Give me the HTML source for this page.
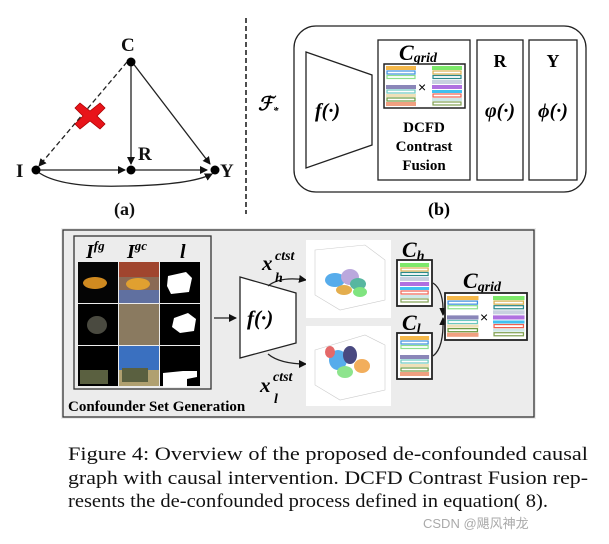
<!DOCTYPE html>
<html><head><meta charset="utf-8"><style>
html,body{margin:0;padding:0;background:#fff}
svg{display:block}
.s{font-family:"Liberation Serif",serif;font-weight:bold}
.c{font-family:"Liberation Serif",serif;font-size:19px;fill:#111}
</style></head><body>
<svg width="609" height="544" viewBox="0 0 609 544" xmlns="http://www.w3.org/2000/svg">
<defs>
<marker id="ar" markerWidth="8" markerHeight="8" refX="7" refY="4" orient="auto" markerUnits="userSpaceOnUse"><path d="M0,0 L8,4 L0,8 z" fill="#111"/></marker>
<g id="bars">
<rect x="0" y="0" width="30" height="4" fill="#f5b84a"/>
<rect x="1" y="5" width="28" height="3" fill="none" stroke="#3b8fe0" stroke-width="1.2"/>
<rect x="1" y="9.5" width="28" height="3" fill="none" stroke="#8ce08c" stroke-width="1.2"/>
<rect x="0" y="14" width="30" height="4" fill="#fff"/>
<rect x="0" y="19" width="30" height="4" fill="#8a86b8"/>
<rect x="1" y="24" width="28" height="3" fill="none" stroke="#6cc8c0" stroke-width="1.2"/>
<rect x="0" y="28" width="30" height="3" fill="#efe0b8"/>
<rect x="1" y="32" width="28" height="3" fill="none" stroke="#6a9a40" stroke-width="1.2"/>
<rect x="0" y="36" width="30" height="4" fill="#f0a080"/>
</g>
<g id="bars2">
<rect x="0" y="0" width="30" height="4" fill="#7de86a"/>
<rect x="1" y="5" width="28" height="3" fill="none" stroke="#d8b050" stroke-width="1.2"/>
<rect x="1" y="9.5" width="28" height="3" fill="none" stroke="#2a8a8a" stroke-width="1.2"/>
<rect x="0" y="14" width="30" height="4" fill="#c8d0e0"/>
<rect x="0" y="19" width="30" height="4" fill="#b070e0"/>
<rect x="0" y="24" width="30" height="3" fill="#40c0f0"/>
<rect x="1" y="28" width="28" height="3" fill="none" stroke="#f06050" stroke-width="1.2"/>
<rect x="0" y="32" width="30" height="3" fill="#d0e8e8"/>
<rect x="1" y="36" width="28" height="3" fill="none" stroke="#80a050" stroke-width="1.2"/>
</g>
</defs>

<!-- (a) -->
<g class="s" font-size="19" fill="#111">
<text x="121" y="51">C</text>
<text x="16" y="177">I</text>
<text x="138" y="160">R</text>
<text x="220" y="177">Y</text>
<text x="114" y="215" font-size="18">(a)</text>
</g>
<line x1="127" y1="62" x2="39" y2="166" stroke="#222" stroke-width="1.3" stroke-dasharray="5,3" marker-end="url(#ar)"/>
<line x1="131" y1="62" x2="131" y2="164" stroke="#222" stroke-width="1.3" marker-end="url(#ar)"/>
<line x1="132" y1="62" x2="210" y2="164" stroke="#222" stroke-width="1.3" marker-end="url(#ar)"/>
<line x1="36" y1="170" x2="125" y2="170" stroke="#222" stroke-width="1.3" marker-end="url(#ar)"/>
<line x1="131" y1="170" x2="207" y2="170" stroke="#222" stroke-width="1.3" marker-end="url(#ar)"/>
<path d="M38,172 Q60,188 125,186 Q190,185 212,174" fill="none" stroke="#222" stroke-width="1.3" marker-end="url(#ar)"/>
<circle cx="131" cy="62" r="4.5" fill="#000"/>
<circle cx="36" cy="170" r="4.5" fill="#000"/>
<circle cx="131" cy="170" r="4.5" fill="#000"/>
<circle cx="215" cy="170" r="4.5" fill="#000"/>
<path d="M80,103 l10,8 l10,-8 l5,5 l-8,8 l8,8 l-5,5 l-10,-8 l-10,8 l-5,-5 l8,-8 l-8,-8 z" fill="#e8141a" stroke="#a00" stroke-width="0.8"/>

<line x1="246" y1="18" x2="246" y2="214" stroke="#222" stroke-width="1.6" stroke-dasharray="5,3"/>

<!-- (b) -->
<text x="258" y="110" font-family="Liberation Serif,serif" font-style="italic" font-weight="bold" font-size="19">ℱ<tspan font-size="11" dy="4">*</tspan></text>
<rect x="294" y="26" width="292" height="166" rx="22" fill="#fff" stroke="#222" stroke-width="1.3"/>
<polygon points="306,52 372,75 372,145 306,168" fill="#fff" stroke="#222" stroke-width="1.3"/>
<text x="315" y="117" class="s" font-style="italic" font-size="20">f(·)</text>
<rect x="378" y="40" width="92" height="140" fill="#fff" stroke="#222" stroke-width="1.3"/>
<text x="399" y="60" class="s" font-style="italic" font-size="22">C<tspan font-size="14" dy="2">grid</tspan></text>
<rect x="384" y="64" width="81" height="44" fill="#fff" stroke="#222" stroke-width="1.5"/>
<use href="#bars" transform="translate(386,66)"/>
<use href="#bars2" transform="translate(432,66)"/>
<text x="418" y="92" font-size="14" font-family="Liberation Sans,sans-serif">×</text>
<g class="s" font-size="15" text-anchor="middle">
<text x="424" y="132">DCFD</text>
<text x="424" y="151">Contrast</text>
<text x="424" y="170">Fusion</text>
</g>
<rect x="477" y="40" width="46" height="140" fill="#fff" stroke="#222" stroke-width="1.3"/>
<rect x="529" y="40" width="48" height="140" fill="#fff" stroke="#222" stroke-width="1.3"/>
<text x="500" y="67" class="s" font-size="18" text-anchor="middle">R</text>
<text x="553" y="67" class="s" font-size="18" text-anchor="middle">Y</text>
<text x="500" y="117" class="s" font-style="italic" font-size="20" text-anchor="middle">φ(·)</text>
<text x="553" y="117" class="s" font-style="italic" font-size="20" text-anchor="middle">ϕ(·)</text>
<text x="428" y="215" class="s" font-size="18">(b)</text>

<!-- bottom panel -->
<rect x="61" y="228" width="475" height="191" fill="#ececec"/>
<rect x="63" y="230" width="471" height="187" fill="#ececec" stroke="#333" stroke-width="1.3"/>
<rect x="74" y="236" width="137" height="153" fill="#ececec" stroke="#333" stroke-width="1.3"/>
<g class="s" font-style="italic" font-size="20">
<text x="86" y="258">I<tspan font-size="13" dy="-8">fg</tspan></text>
<text x="127" y="258">I<tspan font-size="13" dy="-8">gc</tspan></text>
<text x="180" y="258">l</text>
</g>
<rect x="78" y="262" width="40" height="41" fill="#050505"/>
<ellipse cx="95" cy="283" rx="12" ry="6" fill="#d08a20"/>
<rect x="119" y="262" width="40" height="41" fill="#8a6a55"/>
<rect x="119" y="262" width="40" height="15" fill="#a0452e"/>
<ellipse cx="138" cy="284" rx="12" ry="6" fill="#e0a030"/>
<rect x="119" y="290" width="40" height="13" fill="#6070a0"/>
<rect x="160" y="262" width="40" height="41" fill="#000"/>
<path d="M168,276 l18,-4 l6,6 l-3,14 l-18,2 l-4,-8 z" fill="#fff"/>
<rect x="78" y="304" width="40" height="41" fill="#000"/>
<ellipse cx="97" cy="325" rx="10" ry="9" fill="#4a4a40"/>
<rect x="119" y="304" width="40" height="41" fill="#8a7a60"/>
<rect x="160" y="304" width="40" height="41" fill="#000"/>
<path d="M174,318 l14,-5 l8,6 l-2,12 l-14,2 l-8,-6 z" fill="#fff"/>
<rect x="78" y="346" width="40" height="40" fill="#000"/>
<rect x="80" y="370" width="28" height="14" fill="#5a6040"/>
<rect x="119" y="346" width="40" height="40" fill="#3a70c0"/>
<rect x="119" y="370" width="40" height="16" fill="#b0a070"/>
<rect x="122" y="368" width="26" height="14" fill="#5a6040"/>
<rect x="160" y="346" width="40" height="40" fill="#000"/>
<path d="M163,373 l20,-2 l14,0 l0,6 l-10,2 l0,8 l-24,0 z" fill="#fff"/>
<text x="68" y="411" class="s" font-size="15">Confounder Set Generation</text>
<line x1="214" y1="318" x2="236" y2="318" stroke="#222" stroke-width="1.3" marker-end="url(#ar)"/>
<polygon points="240,277 296,293 296,343 240,358" fill="#fff" stroke="#222" stroke-width="1.3"/>
<text x="247" y="325" class="s" font-style="italic" font-size="21">f(·)</text>
<path d="M268,286 Q280,276 306,280" fill="none" stroke="#222" stroke-width="1.3" marker-end="url(#ar)"/>
<path d="M268,354 Q280,364 306,364" fill="none" stroke="#222" stroke-width="1.3" marker-end="url(#ar)"/>
<g class="s" font-style="italic">
<text x="262" y="270" font-size="21">x</text>
<text x="275" y="260" font-size="14">ctst</text>
<text x="275" y="282" font-size="14">h</text>
<text x="260" y="392" font-size="21">x</text>
<text x="273" y="381" font-size="14">ctst</text>
<text x="274" y="403" font-size="14">l</text>
</g>
<rect x="306" y="240" width="85" height="78" fill="#fff"/>
<rect x="306" y="326" width="85" height="80" fill="#fff"/>
<g fill="none" stroke="#ccc" stroke-width="0.6">
<path d="M315,250 L365,245 L385,260 L385,300 L340,310 L315,295 z"/>
<path d="M315,350 L365,335 L385,345 L385,390 L340,400 L315,385 z"/>
</g>
<g opacity="0.85">
<ellipse cx="335" cy="280" rx="10" ry="7" fill="#3a9ee8"/>
<ellipse cx="350" cy="277" rx="9" ry="8" fill="#b09ad8"/>
<ellipse cx="358" cy="284" rx="8" ry="6" fill="#3aaa90"/>
<ellipse cx="344" cy="290" rx="8" ry="5" fill="#e0a030"/>
<ellipse cx="360" cy="292" rx="7" ry="5" fill="#6ae06a"/>
<ellipse cx="338" cy="360" rx="9" ry="10" fill="#3a9ee8"/>
<ellipse cx="350" cy="355" rx="7" ry="9" fill="#2a2a6a"/>
<ellipse cx="362" cy="366" rx="8" ry="7" fill="#f0a040"/>
<ellipse cx="345" cy="372" rx="8" ry="6" fill="#7ae07a"/>
<ellipse cx="330" cy="352" rx="5" ry="6" fill="#e05050"/>
</g>
<text x="402" y="257" class="s" font-style="italic" font-size="22">C<tspan font-size="14" dy="3">h</tspan></text>
<text x="402" y="330" class="s" font-style="italic" font-size="22">C<tspan font-size="14" dy="3">l</tspan></text>
<rect x="397" y="260" width="35" height="46" fill="#fff" stroke="#222" stroke-width="1.8"/>
<use href="#bars2" transform="translate(400,263) scale(0.97,1)"/>
<rect x="397" y="333" width="35" height="46" fill="#fff" stroke="#222" stroke-width="1.8"/>
<use href="#bars" transform="translate(400,336) scale(0.97,1)"/>
<path d="M433,283 Q444,290 443,315" fill="none" stroke="#222" stroke-width="1.3" marker-end="url(#ar)"/>
<path d="M433,356 Q444,348 443,318" fill="none" stroke="#222" stroke-width="1.3" marker-end="url(#ar)"/>
<text x="463" y="288" class="s" font-style="italic" font-size="22">C<tspan font-size="14" dy="3">grid</tspan></text>
<rect x="445" y="293" width="82" height="47" fill="#fff" stroke="#222" stroke-width="1.8"/>
<use href="#bars" transform="translate(447,296) scale(1.05,1.02)"/>
<use href="#bars2" transform="translate(493,296) scale(1.05,1.02)"/>
<text x="480" y="322" font-size="14" font-family="Liberation Sans,sans-serif">×</text>

<text x="68" y="460" class="c" textLength="520" lengthAdjust="spacingAndGlyphs">Figure 4: Overview of the proposed de-confounded causal</text>
<text x="68" y="484" class="c" textLength="520" lengthAdjust="spacingAndGlyphs">graph with causal intervention. DCFD Contrast Fusion rep-</text>
<text x="68" y="507" class="c" textLength="480" lengthAdjust="spacingAndGlyphs">resents the de-confounded process defined in equation( 8).</text>
<text x="423" y="528" font-family="Liberation Sans,'Noto Sans CJK SC',sans-serif" font-size="13" fill="#aaa">CSDN @飓风神龙</text>
</svg>
</body></html>
